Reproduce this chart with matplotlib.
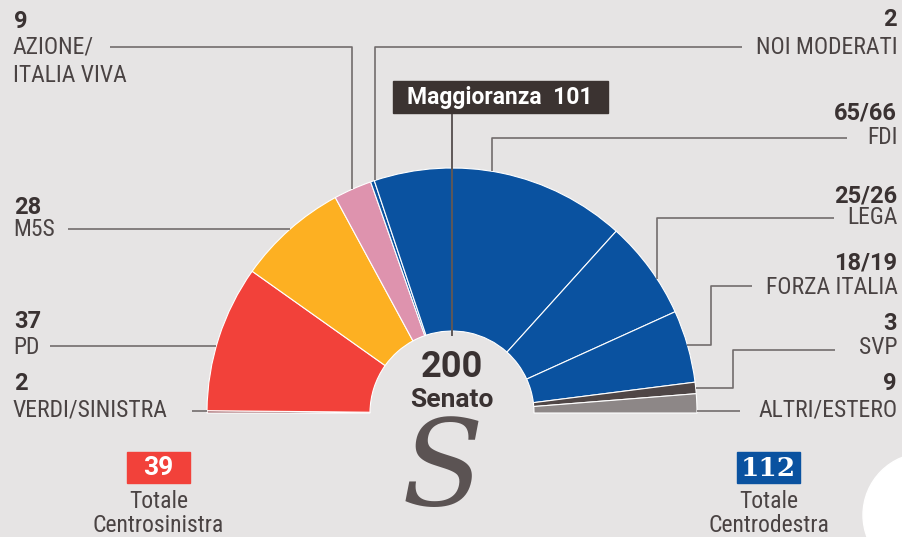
import matplotlib
matplotlib.use("Agg")
import numpy as np
import matplotlib.pyplot as plt
from matplotlib import font_manager
from matplotlib.patches import Rectangle, Circle

# Data
parties = ['VERDI/SINISTRA', 'PD', 'M5S', 'AZIONE/\nITALIA VIVA', 'NOI MODERATI',
           'FDI', 'LEGA', 'FORZA ITALIA', 'SVP', 'ALTRI/ESTERO']
seat_labels = ['2', '37', '28', '9', '2', '65/66', '25/26', '18/19', '3', '9']
# arc share of each wedge (in seats)
seats_drawn = [0.6, 38.5, 29, 10, 1, 67, 26, 19, 3, 5]
colors = ['#8a3a40', '#f2413a', '#fdb022', '#de93ae', '#0a52a0',
          '#0a52a0', '#0a52a0', '#0a52a0', '#4f4646', '#8d8787']
total_seats = 200
majority = 101
tot_centrosinistra = 39
tot_centrodestra = 112

bg = '#e6e4e4'
dark = '#3a3232'
grey_txt = '#4a4343'
line_c = '#726c6c'

# pick a condensed font if there is one
names = {f.name for f in font_manager.fontManager.ttflist}
cond = 'Roboto'
for cand in ['Roboto Condensed', 'Liberation Sans Narrow', 'Open Sans Condensed',
             'Noto Sans Condensed', 'DejaVu Sans Condensed']:
    if cand in names:
        cond = cand
        break
bold = 'Roboto'

fig = plt.figure(figsize=(9.03, 5.37), dpi=100)
fig.patch.set_facecolor(bg)

# geometry of the half donut in pixels
W, H = 903, 537
cx, cy, R, r_in = 452, 413, 245, 82

pax = fig.add_axes([(cx - R) / W, (H - cy - R) / H, 2 * R / W, 2 * R / H])
vals = seats_drawn + [sum(seats_drawn)]
wedges, _ = pax.pie(vals, colors=colors + ['none'], startangle=180, counterclock=False,
                    radius=1, wedgeprops=dict(width=1 - r_in / R, edgecolor='white', linewidth=0.8))
wedges[-1].set_visible(False)
pax.set_xlim(-1, 1)
pax.set_ylim(-1, 1)
pax.axis('off')

# overlay in pixel coordinates
ov = fig.add_axes([0, 0, 1, 1], zorder=3)
ov.set_xlim(0, W)
ov.set_ylim(H, 0)
ov.axis('off')
ov.patch.set_alpha(0)


def arc_x(y, side):
    return cx + side * np.sqrt(R ** 2 - (cy - y) ** 2)


def arc_y(x):
    return cy - np.sqrt(R ** 2 - (x - cx) ** 2)


def line(xs, ys):
    ov.plot(xs, ys, color=line_c, lw=1.2, solid_capstyle='butt')


# leader lines
line([192, arc_x(411, -1)], [411, 411])                 # verdi
line([50, arc_x(346, -1)], [346, 346])                  # pd
line([68, arc_x(229, -1)], [229, 229])                  # m5s
line([110, 352, 352], [47, 47, arc_y(352)])             # azione
line([742, 375, 375], [47, 47, arc_y(375)])             # noi moderati
line([847, 492, 492], [138, 138, arc_y(492)])           # fdi
line([834, 657, 657], [218, 218, arc_y(657)])           # lega
line([752, 711, 711, arc_x(345, 1)], [286, 286, 345, 345])  # forza italia
line([835, 733, 733, arc_x(388, 1)], [350, 350, 388, 388])  # svp
line([740, arc_x(411, 1)], [411, 411])                  # altri

# labels
num_kw = dict(fontfamily=bold, fontweight='bold', fontsize=17, color=dark, va='center')
name_kw = dict(fontfamily=cond, fontsize=17, color=grey_txt, va='center')

left_pos = {0: (384, [410]), 1: (322, [347]), 2: (207, [230]), 3: (21, [47, 76])}
right_pos = {4: (19, [47]), 5: (113, [138]), 6: (196, [218]), 7: (263, [287]),
             8: (323, [348]), 9: (384, [410])}

for i, (ny, ys) in left_pos.items():
    ov.text(14, ny, seat_labels[i], ha='left', **num_kw)
    for txt, y in zip(parties[i].split('\n'), ys):
        ov.text(13, y, txt, ha='left', **name_kw)
for i, (ny, ys) in right_pos.items():
    ov.text(897, ny, seat_labels[i], ha='right', **num_kw)
    for txt, y in zip(parties[i].split('\n'), ys):
        ov.text(898, y, txt, ha='right', **name_kw)

# majority marker
ov.add_patch(Rectangle((393, 81), 215, 32, color='#3b3331', zorder=4))
ov.text(500, 97.5, f'Maggioranza  {majority}', ha='center', va='center', color='white',
        fontfamily=bold, fontweight='bold', fontsize=16.5, zorder=5)
ov.plot([cx, cx], [113, cy - r_in + 4], color='#5f5858', lw=1.4)

# centre text
ov.text(cx, 367, str(total_seats), ha='center', va='center', fontfamily=bold,
        fontweight='bold', fontsize=26, color=dark)
ov.text(cx, 400, 'Senato', ha='center', va='center', fontfamily=bold,
        fontweight='bold', fontsize=19, color=dark)

# totals
ov.add_patch(Rectangle((127, 452), 63, 31, color='#f2413a'))
ov.text(158.5, 468, str(tot_centrosinistra), ha='center', va='center', color='white',
        fontfamily=bold, fontweight='bold', fontsize=19)
ov.text(158.5, 502, 'Totale', ha='center', va='center', color=grey_txt, fontfamily=cond, fontsize=17)
ov.text(158.5, 525, 'Centrosinistra', ha='center', va='center', color=grey_txt, fontfamily=cond, fontsize=17)

ov.add_patch(Rectangle((737, 452), 63, 31, color='#0a52a0'))
ov.text(768.5, 468, str(tot_centrodestra), ha='center', va='center', color='white',
        fontfamily='DejaVu Serif', fontweight='bold', fontsize=19)
ov.text(768.5, 502, 'Totale', ha='center', va='center', color=grey_txt, fontfamily=cond, fontsize=17)
ov.text(768.5, 525, 'Centrodestra', ha='center', va='center', color=grey_txt, fontfamily=cond, fontsize=17)

# logo and corner blob
ov.text(443, 472, 'S', ha='center', va='center', fontfamily='DejaVu Serif', fontstyle='italic',
        fontsize=86, color='#5b5353')
ov.add_patch(Circle((925, 515), 62, color='white'))

fig.savefig('out.png', dpi=100, facecolor=bg)
